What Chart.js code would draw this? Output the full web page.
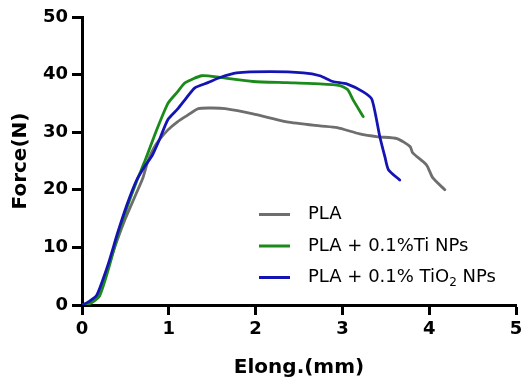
<!DOCTYPE html>
<html>
<head>
<meta charset="utf-8">
<script src="https://cdn.jsdelivr.net/npm/chart.js@4"></script>
<style>
  body { margin: 0; background: #fff; }
</style>
</head>
<body>
<canvas id="forceChart" width="530" height="390"></canvas>
<script>
// Force vs elongation curves
var plaElong  = [0, 0.1, 0.2, 0.3, 0.4, 0.5, 0.6, 0.7, 0.76, 0.85, 0.99, 1.1, 1.19, 1.34, 1.5, 1.65, 1.97, 2.36, 2.74, 2.94, 3.2, 3.41, 3.63, 3.78, 3.81, 3.97, 4.04, 4.18];
var plaForce  = [0, 0.5, 2, 6.5, 11, 15, 18.5, 22, 25, 27.8, 30.4, 31.8, 32.7, 34.1, 34.2, 34.1, 33.2, 31.8, 31.1, 30.8, 29.7, 29.2, 28.9, 27.5, 26.4, 24.3, 22.1, 20];

var tiElong   = [0, 0.1, 0.2, 0.3, 0.41, 0.52, 0.63, 0.73, 0.85, 0.99, 1.1, 1.19, 1.38, 1.59, 1.97, 2.36, 2.74, 2.97, 3.06, 3.12, 3.24];
var tiForce   = [0, 0.3, 1.5, 6, 12, 17, 21.5, 25.2, 30, 35, 37, 38.6, 39.8, 39.5, 38.8, 38.6, 38.4, 38.1, 37.4, 35.7, 32.7];

var tio2Elong = [0, 0.08, 0.17, 0.3, 0.41, 0.52, 0.63, 0.72, 0.81, 0.9, 0.99, 1.1, 1.19, 1.3, 1.45, 1.59, 1.78, 2.17, 2.55, 2.74, 2.89, 3.05, 3.24, 3.34, 3.43, 3.49, 3.53, 3.66];
var tio2Force = [0, 0.6, 1.7, 7, 12.5, 17.5, 21.7, 24, 26, 29, 32.2, 34, 35.7, 37.7, 38.6, 39.5, 40.3, 40.5, 40.3, 39.8, 38.8, 38.4, 37, 35.7, 29.3, 25.7, 23.5, 21.7];

var seriesNames = ['PLA', 'PLA + 0.1%Ti NPs', 'PLA + 0.1% TiO2 NPs'];
var seriesColors = ['#6e6e6e', '#1a8a1a', '#1414b4'];

var xTicks = [0, 1, 2, 3, 4, 5];
var yTicks = [0, 10, 20, 30, 40, 50];

function toPoints(xs, ys) {
    return xs.map(function (x, i) { return {x: x, y: ys[i]}; });
}

// legend drawn inside the plot, with a real subscript for TiO2
var innerLegend = {
    id: 'innerLegend',
    afterDraw: function (chart) {
        var ctx = chart.ctx;
        var area = chart.chartArea;
        var x0 = area.left + 177;
        var y0 = area.top + 197.5;
        ctx.save();
        ctx.textBaseline = 'middle';
        ctx.fillStyle = '#000';
        for (var i = 0; i < seriesNames.length; i++) {
            var y = y0 + i * 31.5;
            ctx.strokeStyle = seriesColors[i];
            ctx.lineWidth = 3;
            ctx.beginPath();
            ctx.moveTo(x0, y);
            ctx.lineTo(x0 + 31, y);
            ctx.stroke();

            ctx.font = '18px "DejaVu Sans"';
            var tx = x0 + 49;
            var label = seriesNames[i];
            var sub = label.indexOf('TiO2');
            if (sub < 0) {
                ctx.fillText(label, tx, y);
            } else {
                var before = label.substring(0, sub + 3);
                var after = label.substring(sub + 4);
                ctx.fillText(before, tx, y);
                tx += ctx.measureText(before).width;
                ctx.font = '12px "DejaVu Sans"';
                ctx.fillText('2', tx, y + 5);
                tx += ctx.measureText('2').width;
                ctx.font = '18px "DejaVu Sans"';
                ctx.fillText(after, tx, y);
            }
        }
        ctx.restore();
    }
};

var tickFont = {family: 'DejaVu Sans', size: 18, weight: 'bold'};
var titleFont = {family: 'DejaVu Sans', size: 20, weight: 'bold'};

new Chart(document.getElementById('forceChart').getContext('2d'), {
    type: 'line',
    data: {
        datasets: [
            {label: seriesNames[0], data: toPoints(plaElong, plaForce), borderColor: seriesColors[0], order: 3},
            {label: seriesNames[1], data: toPoints(tiElong, tiForce), borderColor: seriesColors[1], order: 2},
            {label: seriesNames[2], data: toPoints(tio2Elong, tio2Force), borderColor: seriesColors[2], order: 1}
        ]
    },
    options: {
        responsive: false,
        animation: false,
        events: [],
        layout: {padding: {top: 17, right: 14, left: 0, bottom: 0}},
        elements: {
            line: {borderWidth: 2.8, tension: 0.2, fill: false, borderCapStyle: 'round', borderJoinStyle: 'round'},
            point: {radius: 0}
        },
        plugins: {
            legend: {display: false},
            tooltip: {enabled: false}
        },
        scales: {
            x: {
                type: 'linear',
                min: 0,
                max: 5,
                afterBuildTicks: function (scale) { scale.ticks = xTicks.map(function (v) { return {value: v}; }); },
                afterFit: function (scale) { scale.height = 85; },
                ticks: {font: tickFont, color: '#000', padding: 4, maxRotation: 0},
                grid: {drawOnChartArea: false, drawTicks: true, tickLength: 10, tickWidth: 3, color: '#000'},
                border: {color: '#000', width: 3},
                title: {display: true, text: 'Elong.(mm)', font: titleFont, color: '#000', padding: {top: 0, bottom: 10}}
            },
            y: {
                min: 0,
                max: 50,
                afterBuildTicks: function (scale) { scale.ticks = yTicks.map(function (v) { return {value: v}; }); },
                afterFit: function (scale) { scale.width = 82; },
                ticks: {font: tickFont, color: '#000', padding: 4},
                grid: {drawOnChartArea: false, drawTicks: true, tickLength: 10, tickWidth: 3, color: '#000'},
                border: {color: '#000', width: 3},
                title: {display: true, text: 'Force(N)', font: titleFont, color: '#000', padding: {top: 9, bottom: 0}}
            }
        }
    },
    plugins: [innerLegend]
});
</script>
</body>
</html>
